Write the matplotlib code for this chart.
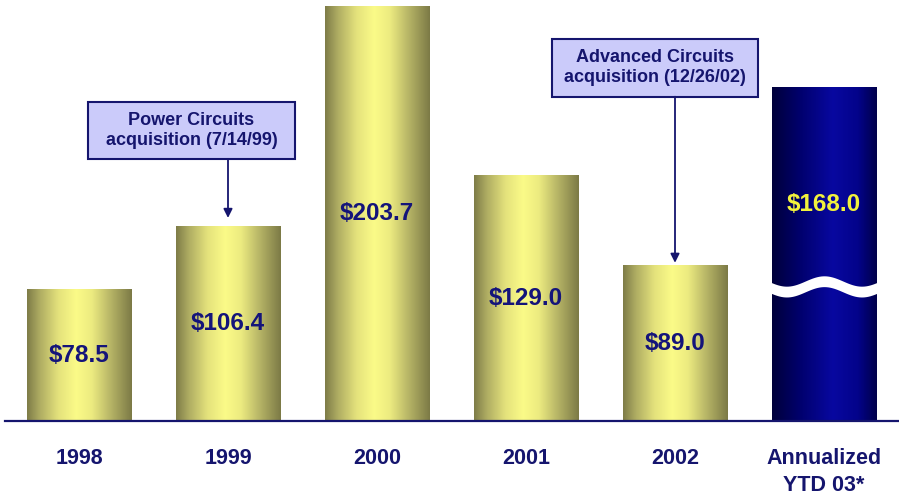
import numpy as np
import matplotlib
matplotlib.use("Agg")
import matplotlib.pyplot as plt
from matplotlib.colors import LinearSegmentedColormap
from matplotlib.patches import Rectangle, Polygon

# ---- data ----
categories = ['1998', '1999', '2000', '2001', '2002', 'Annualized\nYTD 03*']
values = [78.5, 106.4, 203.7, 129.0, 89.0, 168.0]
value_labels = ['$78.5', '$106.4', '$203.7', '$129.0', '$89.0', '$168.0']
annot_index = [1, 4]
annot_text = ['Power Circuits\nacquisition (7/14/99)',
              'Advanced Circuits\nacquisition (12/26/02)']

YMIN, YMAX = 20, 206.8
NAVY = '#15156e'

plt.rcParams['font.family'] = ['Liberation Sans', 'DejaVu Sans']

fig = plt.figure(figsize=(8.99, 4.98), dpi=100)
ax = fig.add_axes([4.5 / 899, 77 / 498, 894 / 899, 421 / 498])
ax.set_xlim(-0.5, 5.5)
ax.set_ylim(YMIN, YMAX)

yellow = LinearSegmentedColormap.from_list('y', [
    (0.0, '#7e7c48'), (0.12, '#aeac62'), (0.3, '#e4e27c'), (0.47, '#fbfb88'),
    (0.62, '#eceb80'), (0.8, '#b6b466'), (1.0, '#7c7a46')])
navy = LinearSegmentedColormap.from_list('n', [
    (0.0, '#00003a'), (0.25, '#00006a'), (0.58, '#0808a0'),
    (0.82, '#03038a'), (1.0, '#00004a')])

x = np.arange(len(categories))
bars = ax.bar(x, values, width=0.7, color='none', edgecolor='none', zorder=2)
grad = np.linspace(0, 1, 256).reshape(1, -1)
for i, b in enumerate(bars):
    x0 = b.get_x(); w = b.get_width(); top = b.get_height()
    cmap = navy if i == len(bars) - 1 else yellow
    ax.imshow(grad, cmap=cmap, aspect='auto', extent=(x0, x0 + w, YMIN, top),
              zorder=2, interpolation='bilinear')

# wave break on last bar
lb = bars[-1]
t = np.linspace(0, 1, 60)
xs = lb.get_x() - 0.01 + t * (lb.get_width() + 0.02)
brk = 79.5
yc = brk + 2.3 * np.sin(2 * np.pi * (t - 0.33) / 0.7)
band = 2.4
poly = np.concatenate([np.column_stack([xs, yc + band]),
                       np.column_stack([xs[::-1], (yc - band)[::-1]])])
ax.add_patch(Polygon(poly, closed=True, facecolor='white', edgecolor='none', zorder=3))

# value labels
for i, (b, lab) in enumerate(zip(bars, value_labels)):
    if i == len(bars) - 1:
        ypos = 116
        col = '#f2f23c'
    else:
        ypos = (YMIN + b.get_height()) / 2
        col = '#14147a'
    ax.text(b.get_x() + b.get_width() / 2, ypos, lab, ha='center', va='center',
            fontsize=17.5, fontweight='bold', color=col, zorder=4)

# annotation boxes + arrows
boxes = [(0.06, 136.3, 1.39, 25.3), (3.174, 163.9, 1.38, 25.7)]
tip_gap = [3.7, 1.2]
for idx, txt, (bx, by, bw, bh), gap in zip(annot_index, annot_text, boxes, tip_gap):
    ax.add_patch(Rectangle((bx, by), bw, bh, facecolor='#cbcbfa', edgecolor=NAVY,
                           lw=1.5, zorder=5, clip_on=False))
    ax.text(bx + bw / 2, by + bh / 2, txt, ha='center', va='center', fontsize=13,
            fontweight='bold', color=NAVY, zorder=6, linespacing=1.2)
    ax.annotate('', xy=(idx, values[idx] + gap), xytext=(idx, by),
                arrowprops=dict(arrowstyle='-|>', color=NAVY, lw=1.3,
                                mutation_scale=13, shrinkA=0, shrinkB=0),
                zorder=5)

# axes styling
for s in ['top', 'left', 'right']:
    ax.spines[s].set_visible(False)
ax.spines['bottom'].set_color(NAVY)
ax.spines['bottom'].set_linewidth(1.6)
ax.set_yticks([])
ax.set_xticks(x)
ax.set_xticklabels(categories, fontsize=15.5, fontweight='bold', color=NAVY)
ax.tick_params(axis='x', length=0, pad=19.5)
for lab in ax.get_xticklabels():
    lab.set_linespacing(1.35)

fig.savefig('out.png', dpi=100)
